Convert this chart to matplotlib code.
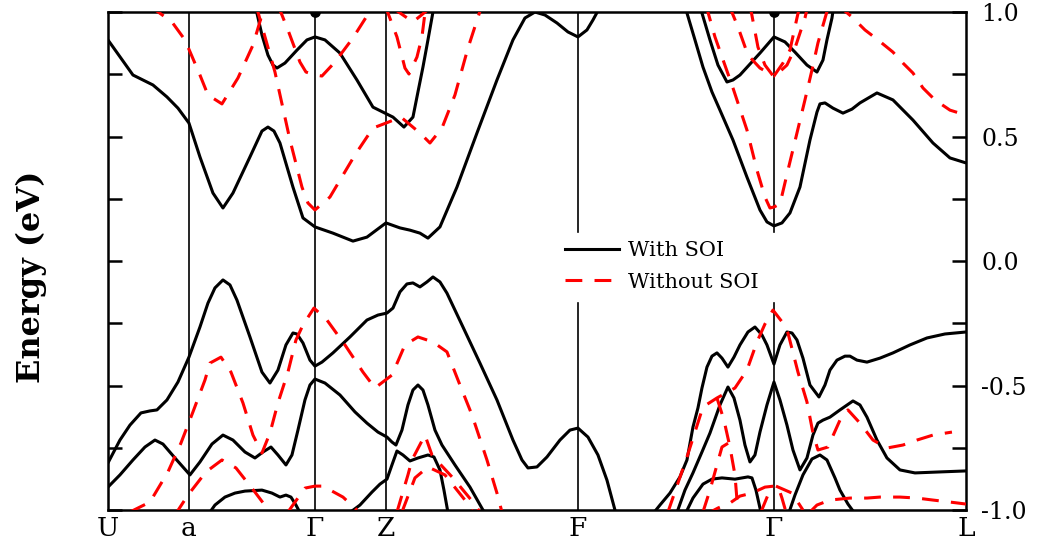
import matplotlib
matplotlib.use("Agg")
import matplotlib.pyplot as plt
from matplotlib.lines import Line2D

plt.rcParams["font.family"] = ["DejaVu Serif"]
plt.rcParams["axes.unicode_minus"] = False

# high-symmetry points along the path (k in arb. units)
K_POINTS = [0, 81, 207, 278, 470, 666, 858]
K_LABELS = ["U", "a", "Γ", "Z", "F", "Γ", "L"]
Y_TICKS = [-1.0, -0.75, -0.5, -0.25, 0.0, 0.25, 0.5, 0.75, 1.0]
Y_TICK_LABELS = ["-1.0", "", "-0.5", "", "0.0", "", "0.5", "", "1.0"]

# ---- bands with SOI (k, E in eV) ----
soi_c1 = [(0, 0.888), (25, 0.747), (45, 0.707), (59, 0.659), (70, 0.614), (81, 0.554),
          (92, 0.418), (105, 0.273), (115, 0.213), (125, 0.273), (142, 0.418), (154, 0.522),
          (160, 0.538), (166, 0.522), (172, 0.474), (185, 0.297), (195, 0.173), (207, 0.137),
          (225, 0.112), (245, 0.080), (259, 0.096), (278, 0.153), (292, 0.133), (302, 0.124),
          (312, 0.112), (320, 0.092), (332, 0.137), (349, 0.297), (369, 0.514), (389, 0.727),
          (405, 0.888), (417, 0.976), (427, 1.0), (437, 0.988), (449, 0.956), (460, 0.920),
          (470, 0.900), (479, 0.928), (485, 0.968), (492, 1.02)]
soi_c2 = [(147, 1.03), (154, 0.908), (160, 0.827), (165, 0.787), (169, 0.775), (177, 0.795),
          (189, 0.847), (199, 0.888), (207, 0.900), (217, 0.888), (232, 0.835), (249, 0.727),
          (265, 0.618), (277, 0.594), (285, 0.578), (296, 0.538), (305, 0.578), (310, 0.679),
          (315, 0.779), (320, 0.888), (325, 1.0), (327, 1.03)]
soi_c3 = [(577, 1.03), (579, 0.996), (587, 0.888), (595, 0.779), (604, 0.679), (612, 0.606),
          (625, 0.486), (639, 0.337), (652, 0.205), (659, 0.157), (666, 0.141), (674, 0.153),
          (682, 0.193), (692, 0.297), (702, 0.486), (709, 0.598), (712, 0.631), (717, 0.635),
          (725, 0.614), (735, 0.594), (744, 0.610), (752, 0.635), (769, 0.675), (785, 0.647),
          (805, 0.566), (825, 0.474), (842, 0.414), (858, 0.394)]
soi_c4 = [(591, 1.03), (594, 0.996), (602, 0.888), (610, 0.787), (619, 0.719), (625, 0.727),
          (632, 0.747), (652, 0.835), (666, 0.900), (677, 0.880), (687, 0.839), (699, 0.787),
          (709, 0.759), (715, 0.807), (719, 0.888), (724, 0.976), (726, 1.03)]
soi_v1 = [(0, -0.811), (12, -0.719), (22, -0.659), (33, -0.610), (42, -0.602), (49, -0.598),
          (59, -0.558), (70, -0.486), (81, -0.386), (92, -0.265), (100, -0.169), (107, -0.108),
          (115, -0.076), (122, -0.096), (129, -0.157), (142, -0.305), (154, -0.446), (162, -0.490),
          (170, -0.438), (178, -0.337), (185, -0.289), (189, -0.293), (195, -0.329), (202, -0.398),
          (207, -0.422), (214, -0.406), (225, -0.369), (242, -0.305), (259, -0.237), (270, -0.217),
          (279, -0.209), (285, -0.189), (292, -0.124), (299, -0.092), (305, -0.088), (312, -0.104),
          (319, -0.084), (325, -0.064), (332, -0.084), (339, -0.129), (355, -0.265), (372, -0.410),
          (389, -0.558), (405, -0.719), (414, -0.799), (420, -0.831), (429, -0.827), (439, -0.787),
          (452, -0.719), (462, -0.679), (470, -0.671), (480, -0.707), (490, -0.779), (499, -0.880),
          (507, -1.0), (510, -1.04)]
soi_v2 = [(542, -1.03), (552, -0.980), (562, -0.932), (572, -0.867), (579, -0.799), (585, -0.667),
          (590, -0.590), (594, -0.510), (599, -0.426), (604, -0.382), (609, -0.369), (614, -0.390),
          (620, -0.426), (626, -0.386), (632, -0.337), (640, -0.285), (647, -0.265), (654, -0.297),
          (659, -0.337), (666, -0.414), (672, -0.337), (679, -0.285), (684, -0.289), (689, -0.317),
          (695, -0.390), (702, -0.498), (711, -0.546), (717, -0.498), (722, -0.438), (729, -0.398),
          (737, -0.382), (742, -0.382), (749, -0.398), (759, -0.406), (772, -0.390), (785, -0.369),
          (802, -0.337), (819, -0.309), (837, -0.293), (858, -0.285)]
soi_v3 = [(569, -1.01), (577, -0.920), (585, -0.851), (594, -0.767), (602, -0.691), (612, -0.578),
          (620, -0.506), (626, -0.550), (632, -0.639), (637, -0.739), (642, -0.807), (647, -0.779),
          (652, -0.687), (659, -0.578), (666, -0.486), (672, -0.558), (679, -0.659), (685, -0.759),
          (692, -0.839), (699, -0.791), (705, -0.699), (710, -0.651), (715, -0.639), (722, -0.627),
          (732, -0.598), (745, -0.562), (752, -0.578), (759, -0.627), (769, -0.719), (779, -0.791),
          (792, -0.839), (807, -0.851), (832, -0.847), (858, -0.843)]
soi_v4 = [(578, -1.01), (585, -0.952), (595, -0.896), (604, -0.876), (614, -0.871), (627, -0.876),
          (640, -0.867), (644, -0.871), (648, -0.920), (652, -0.992), (654, -1.02)]
soi_v5 = [(681, -1.01), (687, -0.940), (695, -0.859), (704, -0.795), (712, -0.779), (719, -0.799),
          (727, -0.871), (732, -0.920), (740, -0.976), (748, -1.02)]
soi_v6 = [(0, -0.908), (12, -0.859), (25, -0.799), (37, -0.747), (47, -0.719), (55, -0.735),
          (67, -0.791), (82, -0.859), (92, -0.807), (104, -0.735), (115, -0.699), (125, -0.719),
          (137, -0.767), (147, -0.791), (155, -0.767), (163, -0.747), (170, -0.779), (178, -0.819),
          (184, -0.779), (190, -0.679), (197, -0.558), (202, -0.498), (207, -0.474), (217, -0.490),
          (232, -0.538), (247, -0.606), (259, -0.651), (270, -0.687), (279, -0.707), (284, -0.727),
          (288, -0.739), (294, -0.679), (300, -0.578), (305, -0.518), (310, -0.498), (315, -0.518),
          (320, -0.578), (327, -0.679), (334, -0.739), (347, -0.819), (362, -0.908), (375, -1.0),
          (379, -1.02)]
soi_v7 = [(100, -1.02), (107, -0.980), (117, -0.948), (127, -0.932), (137, -0.924), (154, -0.920),
          (164, -0.932), (172, -0.948), (178, -0.940), (183, -0.948), (188, -0.980), (192, -1.01)]
soi_v8 = [(242, -1.01), (252, -0.980), (264, -0.928), (272, -0.896), (279, -0.876), (284, -0.819),
          (289, -0.763), (295, -0.779), (302, -0.803), (310, -0.791), (320, -0.779), (326, -0.787),
          (332, -0.839), (336, -0.920), (340, -1.01)]
SOI_BANDS = [soi_c1, soi_c2, soi_c3, soi_c4, soi_v1, soi_v2, soi_v3, soi_v4, soi_v5,
             soi_v6, soi_v7, soi_v8]
soi_touch = [(207, 1.0), (666, 1.0)]

# ---- bands without SOI ----
nosoi_c1 = [(42, 1.024), (64, 0.960), (77, 0.888), (92, 0.747), (100, 0.667), (114, 0.631),
            (130, 0.735), (145, 0.867), (156, 1.016)]
nosoi_c2 = [(170, 1.028), (180, 0.928), (192, 0.799), (198, 0.759), (207, 0.747), (214, 0.743),
            (227, 0.799), (245, 0.896), (264, 1.016)]
nosoi_c3 = [(148, 1.028), (167, 0.759), (182, 0.486), (194, 0.297), (200, 0.233), (207, 0.205),
            (222, 0.257), (247, 0.426), (265, 0.534), (278, 0.554), (293, 0.578), (312, 0.514),
            (322, 0.474), (334, 0.534), (347, 0.667), (360, 0.855), (374, 1.028)]
nosoi_c4 = [(277, 1.028), (289, 0.900), (297, 0.775), (301, 0.751), (309, 0.819), (314, 0.900),
            (318, 1.028)]
nosoi_c5 = [(285, 1.016), (305, 0.960), (322, 1.016)]
nosoi_c6 = [(598, 1.028), (607, 0.900), (625, 0.695), (639, 0.526), (649, 0.365), (657, 0.257),
            (662, 0.213), (666, 0.217), (672, 0.229), (680, 0.365), (689, 0.514), (697, 0.647),
            (704, 0.767), (710, 0.876), (720, 1.016)]
nosoi_c7 = [(621, 1.028), (630, 0.940), (640, 0.827), (652, 0.775), (666, 0.743), (675, 0.795),
            (682, 0.847), (689, 0.976), (692, 1.028)]
nosoi_c8 = [(642, 1.028), (650, 0.859), (657, 0.787), (666, 0.739), (679, 0.787), (687, 0.855),
            (697, 0.976), (700, 1.028)]
nosoi_c9 = [(730, 1.028), (744, 0.980), (757, 0.928), (770, 0.888), (785, 0.839), (795, 0.795),
            (805, 0.755), (815, 0.695), (827, 0.647), (842, 0.606), (858, 0.586)]
nosoi_v1 = [(22, -1.008), (42, -0.968), (60, -0.847), (73, -0.731), (85, -0.606), (97, -0.478),
            (102, -0.410), (113, -0.386), (123, -0.446), (135, -0.570), (145, -0.699), (154, -0.771),
            (162, -0.691), (170, -0.570), (180, -0.446), (188, -0.317), (195, -0.257), (206, -0.189),
            (219, -0.237), (237, -0.337), (255, -0.446), (267, -0.510), (284, -0.458), (297, -0.337),
            (310, -0.305), (325, -0.325), (339, -0.365), (352, -0.498), (364, -0.618), (379, -0.799),
            (389, -0.932), (394, -1.008)]
nosoi_v2 = [(67, -1.02), (80, -0.940), (98, -0.847), (114, -0.799), (128, -0.831), (147, -0.928),
            (162, -1.008)]
nosoi_v3 = [(180, -1.008), (197, -0.912), (207, -0.904), (215, -0.904), (235, -0.948), (249, -1.0)]
nosoi_v4 = [(289, -1.008), (300, -0.859), (304, -0.799), (317, -0.699), (324, -0.779), (332, -0.815),
            (345, -0.871), (365, -0.968), (372, -1.008)]
nosoi_v5 = [(294, -1.008), (307, -0.871), (320, -0.827), (337, -0.859), (357, -0.960), (365, -1.008)]
nosoi_v6 = [(560, -1.008), (579, -0.787), (587, -0.687), (595, -0.586), (609, -0.550), (627, -0.510),
            (639, -0.438), (649, -0.325), (657, -0.253), (665, -0.197), (675, -0.249), (680, -0.289),
            (690, -0.446), (699, -0.566), (705, -0.691), (710, -0.759), (720, -0.747), (732, -0.639),
            (740, -0.598), (752, -0.651), (765, -0.719), (779, -0.751), (795, -0.739), (809, -0.719),
            (825, -0.699), (844, -0.687)]
nosoi_v7 = [(609, -0.550), (616, -0.639), (622, -0.747), (627, -0.859), (630, -1.008)]
nosoi_v8 = [(595, -1.008), (602, -0.920), (609, -0.819), (614, -0.747), (622, -0.727)]
nosoi_v9 = [(597, -1.02), (610, -0.992), (622, -0.972), (632, -0.944), (644, -0.932), (657, -0.908),
            (666, -0.904), (670, -0.904), (674, -0.952), (678, -1.008)]
nosoi_v10 = [(653, -1.008), (662, -0.920), (666, -0.904)]
nosoi_v11 = [(668, -0.904), (684, -0.932), (695, -1.0)]
nosoi_v12 = [(702, -1.008), (709, -0.980), (722, -0.960), (742, -0.952), (759, -0.952), (772, -0.948),
             (792, -0.948), (809, -0.952), (825, -0.960), (842, -0.968), (858, -0.976)]
NOSOI_BANDS = [nosoi_c1, nosoi_c2, nosoi_c3, nosoi_c4, nosoi_c5, nosoi_c6, nosoi_c7, nosoi_c8,
               nosoi_c9, nosoi_v1, nosoi_v2, nosoi_v3, nosoi_v4, nosoi_v5, nosoi_v6, nosoi_v7,
               nosoi_v8, nosoi_v9, nosoi_v10, nosoi_v11, nosoi_v12]

LEGEND_GAP = (-0.169, 0.116)  # legend sits between these energies

fig = plt.figure(figsize=(10.38, 5.49), dpi=100)
ax = fig.add_axes([0.1040, 0.0710, 0.8266, 0.9071])

# high-symmetry vertical lines (F and second Gamma are broken by the legend)
for i, k in enumerate(K_POINTS[1:-1], start=1):
    if i in (4, 5):
        ax.plot([k, k], [1.0, LEGEND_GAP[1]], color="black", lw=1.2, zorder=1)
        ax.plot([k, k], [LEGEND_GAP[0], -1.0], color="black", lw=1.2, zorder=1)
    else:
        ax.axvline(k, color="black", lw=1.2, zorder=1)

for band in SOI_BANDS:
    ks, es = zip(*band)
    ax.plot(ks, es, color="black", lw=2.2, solid_joinstyle="round", solid_capstyle="round", zorder=2)

for band in NOSOI_BANDS:
    ks, es = zip(*band)
    ax.plot(ks, es, color="#ff0000", lw=2.2, dashes=(5.5, 4.0), dash_capstyle="butt", zorder=3)

tk, te = zip(*soi_touch)
ax.scatter(tk, te, s=45, color="black", zorder=4)

ax.set_xlim(K_POINTS[0], K_POINTS[-1])
ax.set_ylim(-1.0, 1.0)
ax.set_xticks(K_POINTS)
ax.set_xticklabels(K_LABELS, fontsize=19)
ax.tick_params(axis="x", length=0, pad=4)
ax.set_yticks(Y_TICKS)
ax.set_yticklabels(Y_TICK_LABELS, fontsize=17)
ax.tick_params(axis="y", direction="in", length=10, width=1.8, left=True, right=True,
               labelleft=False, labelright=True, pad=11)
for sp in ax.spines.values():
    sp.set_linewidth(1.8)

fig.text(31 / 1038, 1 - 277 / 549, "Energy (eV)", rotation=90, ha="center", va="center",
         fontsize=23, fontweight="bold")

handles = [Line2D([], [], color="black", lw=2.2),
           Line2D([], [], color="#ff0000", lw=2.2, dashes=(5.5, 4.0))]
fig.legend(handles, ["With SOI", "Without SOI"], loc="upper left",
           bbox_to_anchor=(565 / 1038, 1 - 241 / 549), frameon=False, fontsize=15,
           handlelength=2.6, handletextpad=0.4, labelspacing=0.6, borderpad=0, borderaxespad=0)

fig.savefig("out.png", dpi=100)
